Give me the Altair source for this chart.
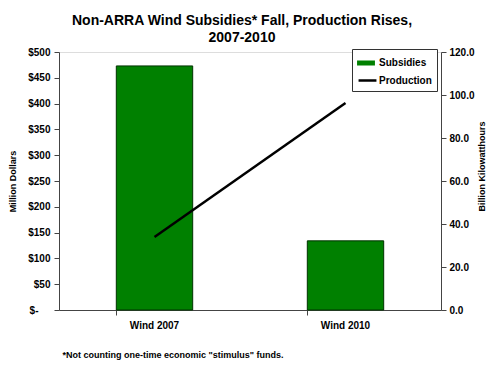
import altair as alt
import pandas as pd

categories = ["Wind 2007", "Wind 2010"]
subsidies = [473, 134]          # million dollars
production = [34.0, 96.3]      # billion kWh
series_names = ["Subsidies", "Production"]
left_ticks = [0, 50, 100, 150, 200, 250, 300, 350, 400, 450, 500]
right_ticks = [0, 20, 40, 60, 80, 100, 120]

df = pd.DataFrame({"cat": categories, "subsidies": subsidies, "production": production})

FONT = "Liberation Sans"
rect_path = "M-1,-0.28H1V0.28H-1Z"

common_legend = dict(
    title=None, orient="none",
    labelFont=FONT, labelFontSize=10, labelFontWeight="bold",
    symbolSize=320, labelOffset=4, symbolOpacity=1,
)

# boxed legend with both labels (the Production symbol is drawn by the stroke legend on top)
fill_legend = alt.Legend(
    legendX=293, legendY=-3, padding=5, rowPadding=4, labelColor="black",
    symbolType=rect_path, symbolStrokeWidth=0,
    strokeColor="#333333", fillColor="white", zindex=0, **common_legend,
)
stroke_legend = alt.Legend(
    legendX=298, legendY=18, padding=0, rowPadding=0, labelColor="black", labelExpr="''",
    symbolType="stroke", symbolStrokeWidth=2.5, zindex=1, **common_legend,
)

x = alt.X(
    "cat:N", sort=categories,
    scale=alt.Scale(paddingInner=0.6, paddingOuter=0.3),
    axis=alt.Axis(
        title='*Not counting one-time economic "stimulus" funds.',
        titleFont=FONT, titleFontSize=9, titleFontWeight="bold", titleColor="black",
        titleAnchor="start", titleAlign="left", titleX=3, titleY=47, titleBaseline="alphabetic",
        labelAngle=0, labelFont=FONT, labelFontSize=10, labelFontWeight="bold", labelColor="black",
        labelPadding=5, tickSize=5, tickColor="#444", domainColor="#444", bandPosition=0,
    ),
)

bars = alt.Chart(df).transform_calculate(series="'Subsidies'").mark_bar(
    stroke="#003300", strokeWidth=1
).encode(
    x=x,
    y=alt.Y(
        "subsidies:Q", scale=alt.Scale(domain=[0, 500], nice=False),
        axis=alt.Axis(
            title="Million Dollars", values=left_ticks,
            labelExpr="datum.value == 0 ? '$-' : '$' + datum.value",
            titleFont=FONT, titleFontSize=9, titleFontWeight="bold", titleColor="black", titlePadding=10,
            labelFont=FONT, labelFontSize=10, labelFontWeight="bold", labelColor="black",
            labelPadding=alt.condition("datum.value == 0", alt.value(16), alt.value(4)),
            tickSize=5, tickColor="#444", domainColor="#444", grid=False,
        ),
    ),
    fill=alt.Fill("series:N", scale=alt.Scale(domain=series_names, range=["#008000", "transparent"]),
                  legend=fill_legend),
)

line = alt.Chart(df).transform_calculate(series="'Production'").mark_line(
    strokeWidth=2.5
).encode(
    x=x,
    y=alt.Y(
        "production:Q", scale=alt.Scale(domain=[0, 120], nice=False),
        axis=alt.Axis(
            title="Billion Kilowatthours", orient="right", values=right_ticks, format=".1f",
            titleAngle=270, titleFont=FONT, titleFontSize=9, titleFontWeight="bold", titleColor="black",
            titlePadding=12, titleY=114,
            labelFont=FONT, labelFontSize=10, labelFontWeight="bold", labelColor="black",
            labelPadding=3, tickSize=5, tickColor="#444", domainColor="#444", grid=False,
        ),
    ),
    stroke=alt.Stroke("series:N", scale=alt.Scale(domain=["Production"], range=["#000000"]),
                      legend=stroke_legend),
)

chart = alt.layer(bars, line).resolve_scale(y="independent").properties(
    width=382, height=258,
    autosize=alt.AutoSizeParams(type="none"),
    padding={"left": 51, "top": 44, "right": 50, "bottom": 50},
    title=alt.TitleParams(
        text=["Non-ARRA Wind Subsidies* Fall, Production Rises,", "2007-2010"],
        font=FONT, fontSize=14, fontWeight="bold", color="black",
        anchor="middle", lineHeight=17, offset=2, dx=-8,
    ),
).configure_view(stroke="#888888", strokeWidth=1).configure(background="white")

chart.save("out.html", embed_options={"renderer": "svg", "actions": False})
